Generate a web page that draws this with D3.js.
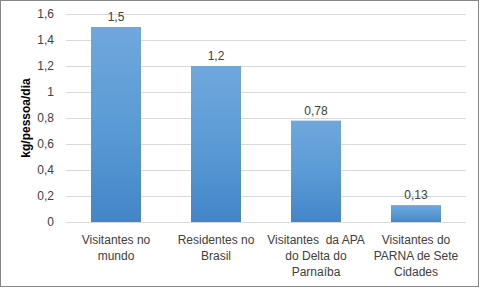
<!DOCTYPE html>
<meta charset="utf-8">
<script src="https://d3js.org/d3.v7.min.js"></script>
<style>
body { margin: 0; background: #fff; }
text { font-family: "Liberation Sans", Arial, sans-serif; fill: #404040; }
.grid line { stroke: #d9d9d9; stroke-width: 1; shape-rendering: crispEdges; }
.cat { white-space: pre; }
</style>
<body>
<div id="chart"></div>
<script>
// data
var categories = [
  ["Visitantes no", "mundo"],
  ["Residentes no", "Brasil"],
  ["Visitantes  da APA", "do Delta do", "Parnaíba"],
  ["Visitantes do", "PARNA de Sete", "Cidades"]
];
var values = [1.5, 1.2, 0.78, 0.13];
var valueLabels = ["1,5", "1,2", "0,78", "0,13"];
var yTicks = [0, 0.2, 0.4, 0.6, 0.8, 1, 1.2, 1.4, 1.6];

var W = 480, H = 288;
var margin = {top: 14, right: 14, bottom: 66, left: 66};
var width = W - margin.left - margin.right,
    height = H - margin.top - margin.bottom;

var svg = d3.select("#chart").append("svg")
    .attr("width", W).attr("height", H);

var defs = svg.append("defs");
var grad = defs.append("linearGradient")
    .attr("id", "barGrad").attr("x1", 0).attr("y1", 0).attr("x2", 0).attr("y2", 1);
grad.append("stop").attr("offset", "0%").attr("stop-color", "#70a7dd");
grad.append("stop").attr("offset", "50%").attr("stop-color", "#5b9bd5");
grad.append("stop").attr("offset", "100%").attr("stop-color", "#4385c8");

// frame
svg.append("rect")
    .attr("x", 0.5).attr("y", 0.5)
    .attr("width", W - 2).attr("height", H - 2)
    .attr("fill", "#fff").attr("stroke", "#868686");

var g = svg.append("g")
    .attr("transform", "translate(" + margin.left + "," + margin.top + ")");

var x = d3.scaleBand()
    .domain(d3.range(categories.length))
    .range([0, width])
    .paddingInner(0.5).paddingOuter(0.25);

var y = d3.scaleLinear().domain([0, 1.6]).range([height, 0]);

// gridlines
g.append("g").attr("class", "grid")
  .selectAll("line").data(yTicks).enter().append("line")
    .attr("x1", 0).attr("x2", width)
    .attr("y1", function(d) { return Math.round(y(d)) + 0.5; })
    .attr("y2", function(d) { return Math.round(y(d)) + 0.5; });

// y axis labels
var yAxis = d3.axisLeft(y).tickValues(yTicks).tickSize(0).tickPadding(12)
    .tickFormat(function(d) { return String(d).replace(".", ","); });
var ya = g.append("g").call(yAxis);
ya.select(".domain").remove();
ya.selectAll("text").style("font-size", "12px").attr("fill", "#404040");

// bars
g.selectAll(".bar").data(values).enter().append("rect")
    .attr("class", "bar")
    .attr("x", function(d, i) { return x(i); })
    .attr("width", x.bandwidth())
    .attr("y", function(d) { return y(d); })
    .attr("height", function(d) { return height - y(d); })
    .attr("fill", "url(#barGrad)");

// value labels
g.selectAll(".vlabel").data(values).enter().append("text")
    .attr("class", "vlabel")
    .attr("x", function(d, i) { return x(i) + x.bandwidth() / 2; })
    .attr("y", function(d) { return y(d) - 6; })
    .attr("text-anchor", "middle")
    .style("font-size", "12px")
    .text(function(d, i) { return valueLabels[i]; });

// category labels
var cat = g.selectAll(".cat").data(categories).enter().append("text")
    .attr("class", "cat")
    .attr("text-anchor", "middle")
    .style("font-size", "12px")
    .attr("transform", function(d, i) {
      return "translate(" + (x(i) + x.bandwidth() / 2) + "," + (height + 22) + ")";
    });
cat.selectAll("tspan").data(function(d) { return d; }).enter().append("tspan")
    .attr("x", 0)
    .attr("dy", function(d, i) { return i === 0 ? 0 : 16; })
    .text(function(d) { return d; });

// y title
svg.append("text")
    .attr("transform", "translate(30," + (margin.top + height / 2) + ") rotate(-90)")
    .attr("text-anchor", "middle")
    .style("font-size", "12px")
    .style("font-weight", "bold")
    .style("fill", "#000")
    .text("kg/pessoa/dia");
</script>
</body>
